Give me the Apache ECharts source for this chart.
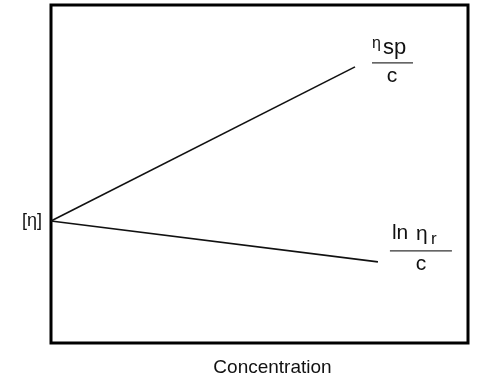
<!DOCTYPE html>
<html>
<head>
<meta charset="utf-8">
<script src="https://cdn.jsdelivr.net/npm/echarts@6/dist/echarts.min.js"></script>
<style>
html,body{margin:0;padding:0;background:#fff;}
#chart{width:498px;height:379px;}
</style>
</head>
<body>
<div id="chart"></div>
<script>
// Data
const intrinsicViscosity = 3.61;          // [η] intercept
const spConc = [0, 7.29];                 // ηsp/c line, concentration
const spVal = [3.61, 8.17];               // ηsp/c line, value
const lnConc = [0, 7.84];                 // ln ηr / c line, concentration
const lnVal = [3.61, 2.40];               // ln ηr / c line, value
const yTickLabel = '[η]';
const xAxisName = 'Concentration';

const FONT = '"Liberation Sans", Arial, Helvetica, sans-serif';
const chart = echarts.init(document.getElementById('chart'));

chart.setOption({
  animation: false,
  backgroundColor: '#fff',
  grid: {
    left: 51, top: 5, width: 417, height: 338,
    show: true, borderColor: '#000', borderWidth: 3,
    containLabel: false, outerBoundsMode: 'none'
  },
  xAxis: {
    type: 'value', min: 0, max: 10,
    axisLine: {show: false}, axisTick: {show: false},
    axisLabel: {show: false}, splitLine: {show: false},
    name: xAxisName, nameLocation: 'middle', nameGap: 15,
    nameTextStyle: {fontFamily: FONT, fontSize: 19, color: '#111', verticalAlign: 'top', padding: [0, 0, 0, 26]}
  },
  yAxis: {
    type: 'value', min: 0, max: 10,
    axisLine: {show: false}, axisTick: {show: false}, splitLine: {show: false},
    axisLabel: {
      show: true, customValues: [intrinsicViscosity], margin: 9,
      formatter: () => yTickLabel,
      fontFamily: FONT, fontSize: 18, color: '#111',
      verticalAlign: 'middle', padding: [3, 0, 0, 0]
    }
  },
  series: [
    {type: 'line', data: spConc.map((x, i) => [x, spVal[i]]), symbol: 'none',
     lineStyle: {color: '#111', width: 1.6}},
    {type: 'line', data: lnConc.map((x, i) => [x, lnVal[i]]), symbol: 'none',
     lineStyle: {color: '#111', width: 1.6}}
  ]
});

const p1 = chart.convertToPixel({gridIndex: 0}, [spConc[1], spVal[1]]);
const p2 = chart.convertToPixel({gridIndex: 0}, [lnConc[1], lnVal[1]]);
const txt = (text, x, y, size, align, va) => ({
  type: 'text', x, y,
  style: {text, font: size + 'px ' + FONT, fill: '#111', align: align || 'left', verticalAlign: va || 'middle'}
});
chart.setOption({
  graphic: [
    {type: 'line', shape: {x1: p1[0] + 17, y1: p1[1] - 4, x2: p1[0] + 58, y2: p1[1] - 4},
     style: {stroke: '#333', lineWidth: 1.2}},
    txt('η', p1[0] + 17, p1[1] - 23, 16),
    txt('sp', p1[0] + 28, p1[1] - 19, 22),
    txt('c', p1[0] + 37, p1[1] + 9, 21, 'center'),
    {type: 'line', shape: {x1: p2[0] + 12, y1: p2[1] - 11, x2: p2[0] + 74, y2: p2[1] - 11},
     style: {stroke: '#333', lineWidth: 1.2}},
    txt('ln', p2[0] + 14, p2[1] - 29, 21),
    txt('η', p2[0] + 38, p2[1] - 28, 21),
    txt('r', p2[0] + 53, p2[1] - 23, 17),
    txt('c', p2[0] + 43, p2[1] + 2, 21, 'center')
  ]
});
</script>
</body>
</html>
